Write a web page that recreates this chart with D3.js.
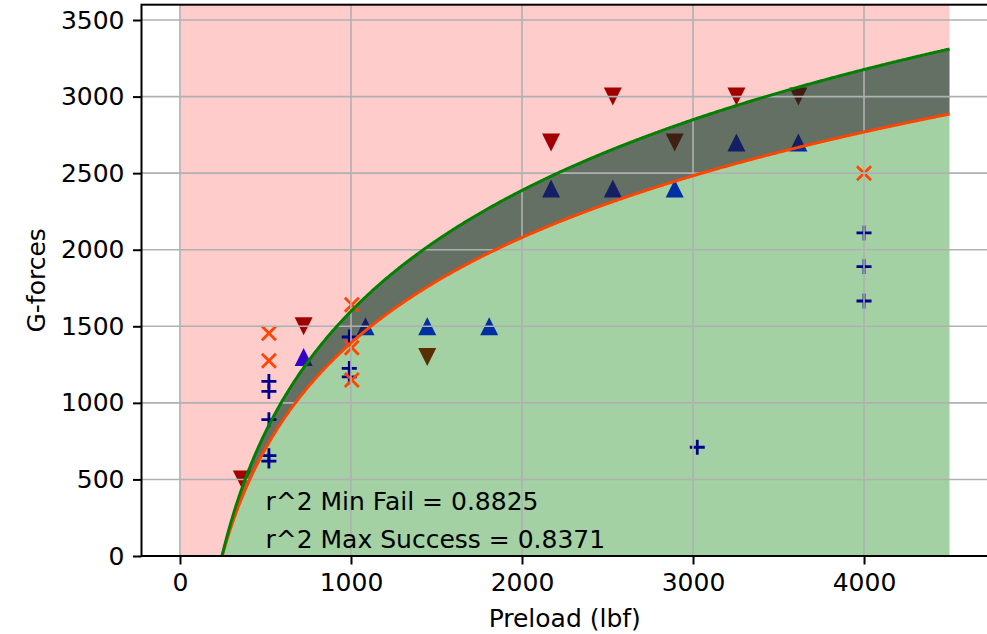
<!DOCTYPE html>
<html>
<head>
<meta charset="utf-8">
<script src="https://cdn.jsdelivr.net/npm/d3@7"></script>
<style>
  body { margin: 0; background: #fff; }
  text { font-family: "DejaVu Sans", sans-serif; fill: #000; }
</style>
</head>
<body>
<svg id="chart" width="987" height="634"></svg>
<script>
// failed runs (down triangles)
const failX = [362, 723, 1446, 2170, 2531, 2893, 3254, 3616];
const failY = [500, 1500, 1300, 2700, 3000, 2700, 3000, 3000];
// successful runs (up triangles)
const successX = [723, 1085, 1446, 1808, 2170, 2531, 2893, 3254, 3616];
const successY = [1300, 1500, 1500, 1500, 2400, 2400, 2400, 2700, 2700];
// other tests
const plusX = [520, 520, 520, 520, 520, 990, 990, 990, 3025, 4000, 4000, 4000];
const plusY = [1140, 1075, 890, 655, 620, 1430, 1225, 1170, 710, 2110, 1890, 1665];
const crossX = [520, 520, 1005, 1005, 1005, 4000];
const crossY = [1455, 1275, 1640, 1360, 1150, 2500];

// log fits y = a*ln(x) + b
const minFailFit = [1138.6, -6267];
const maxSuccessFit = [993.8, -5474];
const fitRange = [0, 4500];

const xTicks = [0, 1000, 2000, 3000, 4000];
const yTicks = [0, 500, 1000, 1500, 2000, 2500, 3000, 3500];
const notes = ["r^2 Min Fail = 0.8825", "r^2 Max Success = 0.8371"];
const noteY = [300, 50];

const width = 987, height = 634;
const margin = { top: 4.7, right: -1, bottom: 78, left: 141.5 };

const svg = d3.select("#chart");

const x = d3.scaleLinear()
  .domain([-225, 4725])
  .range([margin.left, width - margin.right]);

const y = d3.scaleLinear()
  .domain([0, 3600])
  .range([height - margin.bottom, margin.top]);

svg.append("clipPath").attr("id", "plot")
  .append("rect")
  .attr("x", x(-225)).attr("y", y(3600))
  .attr("width", x(4725) - x(-225)).attr("height", y(0) - y(3600));

const plot = svg.append("g").attr("clip-path", "url(#plot)");

const fit = (c, v) => c[0] * Math.log(Math.max(v, 1)) + c[1];
const xs = d3.range(fitRange[0], fitRange[1], 5).concat([fitRange[1]]);

// triangles sit under the shaded areas
plot.selectAll(".fail")
  .data(d3.zip(failX, failY))
  .join("path")
  .attr("class", "fail")
  .attr("d", "M0,9L9,-9L-9,-9Z")
  .attr("transform", d => `translate(${x(d[0])},${y(d[1])})`)
  .attr("fill", "#8b0000");

plot.selectAll(".success")
  .data(d3.zip(successX, successY))
  .join("path")
  .attr("class", "success")
  .attr("d", "M0,-9L9,9L-9,9Z")
  .attr("transform", d => `translate(${x(d[0])},${y(d[1])})`)
  .attr("fill", "#0000ff");

// shaded regions
plot.append("path")
  .datum(xs)
  .attr("d", d3.area()
    .x(d => x(d))
    .y0(y(3600) - 5)
    .y1(d => y(fit(minFailFit, d))))
  .attr("fill", "#ff0000")
  .attr("fill-opacity", 0.2);

plot.append("path")
  .datum(xs)
  .attr("d", d3.area()
    .x(d => x(d))
    .y0(d => y(fit(maxSuccessFit, d)))
    .y1(d => y(fit(minFailFit, d))))
  .attr("fill", "rgb(30,46,28)")
  .attr("fill-opacity", 0.684);

plot.append("path")
  .datum(xs)
  .attr("d", d3.area()
    .x(d => x(d))
    .y0(y(0))
    .y1(d => y(fit(maxSuccessFit, d))))
  .attr("fill", "#008000")
  .attr("fill-opacity", 0.36);

// other markers
plot.selectAll(".plus")
  .data(d3.zip(plusX, plusY))
  .join("path")
  .attr("class", "plus")
  .attr("d", "M-7.5,0H7.5M0,-7.5V7.5")
  .attr("transform", d => `translate(${x(d[0])},${y(d[1])})`)
  .attr("stroke", "#00008b")
  .attr("stroke-width", 2.8)
  .attr("fill", "none");

plot.selectAll(".cross")
  .data(d3.zip(crossX, crossY))
  .join("path")
  .attr("class", "cross")
  .attr("d", "M-7,-7L7,7M-7,7L7,-7")
  .attr("transform", d => `translate(${x(d[0])},${y(d[1])})`)
  .attr("stroke", "#ff4500")
  .attr("stroke-width", 2.8)
  .attr("fill", "none");

// grid
plot.selectAll(".gx")
  .data(xTicks)
  .join("line")
  .attr("x1", d => x(d)).attr("x2", d => x(d))
  .attr("y1", y(0)).attr("y2", y(3600))
  .attr("stroke", "#b0b0b0").attr("stroke-width", 1.6);

plot.selectAll(".gy")
  .data(yTicks)
  .join("line")
  .attr("x1", x(-225)).attr("x2", x(4725))
  .attr("y1", d => y(d)).attr("y2", d => y(d))
  .attr("stroke", "#b0b0b0").attr("stroke-width", 1.6);

// fit curves
const curve = c => d3.line()
  .x(d => x(d))
  .y(d => y(fit(c, d)));

plot.append("path")
  .datum(xs.filter(d => d > 150))
  .attr("d", curve(maxSuccessFit))
  .attr("fill", "none")
  .attr("stroke", "#ff4500")
  .attr("stroke-width", 3);

plot.append("path")
  .datum(xs.filter(d => d > 150))
  .attr("d", curve(minFailFit))
  .attr("fill", "none")
  .attr("stroke", "#008000")
  .attr("stroke-width", 3);

// notes
svg.selectAll(".note")
  .data(notes)
  .join("text")
  .attr("class", "note")
  .attr("x", x(500))
  .attr("y", (d, i) => y(noteY[i]))
  .style("font-size", "25px")
  .text(d => d);

// axes
const xAxis = svg.append("g")
  .attr("transform", `translate(0,${y(0)})`)
  .call(d3.axisBottom(x).tickValues(xTicks).tickFormat(d3.format("d"))
    .tickSize(8.5).tickPadding(8.5).tickSizeOuter(0));

const yAxis = svg.append("g")
  .attr("transform", `translate(${x(-225)},0)`)
  .call(d3.axisLeft(y).tickValues(yTicks).tickFormat(d3.format("d"))
    .tickSize(8.5).tickPadding(8.5).tickSizeOuter(0));

[xAxis, yAxis].forEach(g => {
  g.select(".domain").remove();
  g.selectAll(".tick line").attr("stroke", "#000").attr("stroke-width", 2);
  g.selectAll(".tick text").style("font-size", "25px").attr("fill", "#000");
});

// spines
svg.append("rect")
  .attr("x", x(-225)).attr("y", y(3600))
  .attr("width", x(4725) - x(-225)).attr("height", y(0) - y(3600))
  .attr("fill", "none")
  .attr("stroke", "#000")
  .attr("stroke-width", 2);

svg.append("text")
  .attr("x", (x(-225) + x(4725)) / 2)
  .attr("y", 627)
  .attr("text-anchor", "middle")
  .style("font-size", "25px")
  .text("Preload (lbf)");

svg.append("text")
  .attr("transform", `translate(45,${(y(0) + y(3600)) / 2}) rotate(-90)`)
  .attr("text-anchor", "middle")
  .style("font-size", "25px")
  .text("G-forces");
</script>
</body>
</html>
